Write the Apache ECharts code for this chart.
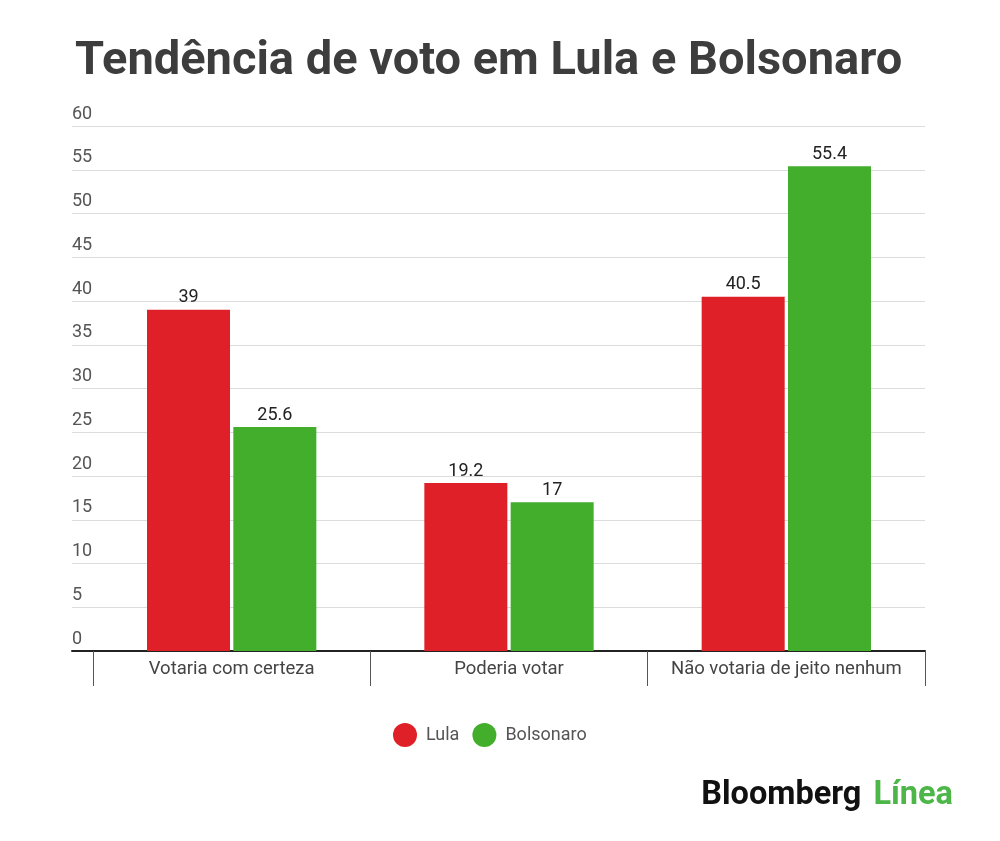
<!DOCTYPE html>
<html>
<head>
<meta charset="utf-8">
<script src="https://cdn.jsdelivr.net/npm/echarts@6/dist/echarts.min.js"></script>
<style>
  html, body { margin: 0; padding: 0; background: #fff; }
  #chart { width: 1000px; height: 841px; }
</style>
</head>
<body>
<div id="chart"></div>
<script>
const categories = ['Votaria com certeza', 'Poderia votar', 'Não votaria de jeito nenhum'];
const lula = [39, 19.2, 40.5];
const bolsonaro = [25.6, 17, 55.4];
const yMin = 0;
const yMax = 60;
const yStep = 5;

const font = 'Roboto';

const labelOpt = {
  show: true,
  position: 'top',
  distance: 3,
  color: '#222',
  fontFamily: font,
  fontSize: 18
};

const chart = echarts.init(document.getElementById('chart'));

chart.setOption({
  backgroundColor: '#fff',
  animation: false,
  title: {
    text: 'Tendência de voto em Lula e Bolsonaro',
    left: 70,
    top: 34,
    textStyle: { fontFamily: font, fontWeight: 'bold', fontSize: 47, color: '#3d3d3d' }
  },
  legend: {
    top: 718,
    left: 388,
    icon: 'circle',
    itemWidth: 24,
    itemHeight: 24,
    itemGap: 13,
    textStyle: { fontFamily: font, fontSize: 18, color: '#555', padding: [0, 0, 0, 4] },
    data: ['Lula', 'Bolsonaro']
  },
  grid: [
    { left: 72, right: 75, top: 126, bottom: 190 },
    { left: 93, right: 75, top: 126, bottom: 190 }
  ],
  xAxis: [
    {
      gridIndex: 0,
      type: 'value',
      min: 0,
      max: 1,
      axisLine: { show: true, lineStyle: { color: '#222', width: 2 } },
      axisTick: { show: false },
      axisLabel: { show: false },
      splitLine: { show: false }
    },
    {
      gridIndex: 1,
      type: 'category',
      data: categories,
      boundaryGap: true,
      axisLine: { show: false },
      axisTick: { show: true, interval: 0, length: 35, lineStyle: { color: '#555', width: 1 } },
      axisLabel: { interval: 0, hideOverlap: false, margin: 9, fontFamily: font, fontSize: 18.5, color: '#444' }
    }
  ],
  yAxis: [
    {
      gridIndex: 0,
      type: 'value',
      min: yMin,
      max: yMax,
      interval: yStep,
      axisLine: { show: false },
      axisTick: { show: false },
      axisLabel: {
        inside: true,
        margin: 0,
        align: 'left',
        verticalAlign: 'bottom',
        padding: [0, 0, 3, 0],
        fontFamily: font,
        fontSize: 18,
        color: '#555'
      },
      splitLine: { show: true, lineStyle: { color: '#dcdcdc', width: 1 } }
    },
    {
      gridIndex: 1,
      type: 'value',
      min: yMin,
      max: yMax,
      interval: yStep,
      show: false,
      splitLine: { show: false }
    }
  ],
  series: [
    {
      name: 'Lula',
      type: 'bar',
      xAxisIndex: 1,
      yAxisIndex: 1,
      data: lula,
      barWidth: 83,
      barGap: '4%',
      itemStyle: { color: '#e02028' },
      label: labelOpt
    },
    {
      name: 'Bolsonaro',
      type: 'bar',
      xAxisIndex: 1,
      yAxisIndex: 1,
      data: bolsonaro,
      barWidth: 83,
      barGap: '4%',
      itemStyle: { color: '#43ae2c' },
      label: labelOpt
    }
  ],
  graphic: [
    {
      type: 'text',
      right: 47,
      top: 779,
      style: {
        text: '{b|Bloomberg}{g|Línea}',
        rich: {
          b: { fontFamily: font, fontWeight: 'bold', fontSize: 32.5, fill: '#111', padding: [0, 12, 0, 0] },
          g: { fontFamily: font, fontWeight: 'bold', fontSize: 32.5, fill: '#4cb648' }
        }
      }
    }
  ]
});
</script>
</body>
</html>
